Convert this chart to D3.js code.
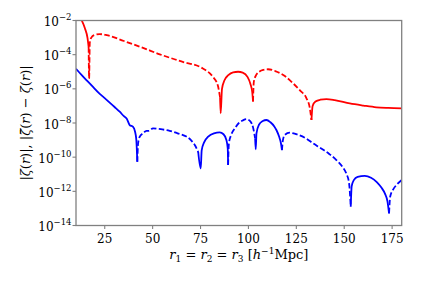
<!DOCTYPE html>
<html>
<head>
<meta charset="utf-8">
<script src="https://cdn.jsdelivr.net/npm/d3@7"></script>
<style>
body { margin: 0; background: #fff; }
svg text { font-family: "DejaVu Serif", serif; fill: #000; }
</style>
</head>
<body>
<div id="chart"></div>
<script>
"use strict"

// values: r in h^-1 Mpc, signed zeta (negative -> dashed)
const redR = [10, 12, 14.6, 16, 16.6, 16.85, 17.2, 18, 19.5, 22.4, 26, 35, 45, 53.7, 65, 76, 81.4, 84, 85.2,
	85.5, 86.2, 87.5, 89.5, 92, 94.6, 97, 99.5, 101, 102, 102.4,
	102.8, 104, 106, 108, 110.2, 114, 119, 123.3, 127, 130.3, 132, 132.9,
	133.5, 135, 137.5, 140.7, 145, 152.9, 160, 166.8, 173, 180];
const redZeta = [6.3e-2, 1.8e-2, 3.6e-3, 9.5e-4, 2.8e-4, -4.0e-6, -5.0e-4, -1.0e-3, -1.4e-3, -1.6e-3, -1.4e-3, -6.3e-4, -2.5e-4, -1.05e-4, -4.0e-5, -1.6e-5, -5.1e-6, -1.6e-6, -3.2e-7,
	3.7e-8, 1.0e-6, 3.2e-6, 6.3e-6, 9.3e-6, 1.0e-5, 8.9e-6, 5.0e-6, 2.0e-6, 6.3e-7, 1.8e-7,
	-2.5e-6, -6.3e-6, -1.07e-5, -1.3e-5, -1.4e-5, -1.1e-5, -5.6e-6, -2.1e-6, -7.9e-7, -2.8e-7, -7.9e-8, -1.5e-8,
	1.0e-7, 1.8e-7, 2.3e-7, 2.5e-7, 2.2e-7, 1.4e-7, 1.05e-7, 8.3e-8, 7.6e-8, 7.2e-8];

const blueR = [10, 13, 16, 19, 22, 24.1, 27, 30, 32.8, 35, 36.5, 38, 39.8, 40.8, 41.5, 42,
	42.4, 43.3, 45, 46.8, 48, 50.2, 53, 55, 58.9, 63, 67.6, 70, 72, 73.8,
	75.1, 75.6, 77, 79, 82, 85, 87, 88.5, 89.2, 89.4,
	89.8, 91, 93, 95, 97, 98.9, 101, 102.5, 103.5,
	103.8, 104.2, 105.5, 107.5, 109.4, 111.5, 113.5, 114.6, 116, 117, 117.5,
	118, 119, 121.5, 125, 130, 133.7, 138, 142, 145.9, 149, 151.1, 152.5, 153.4,
	153.9, 155, 157, 160.7, 164, 167, 169.5, 171.2, 172.6, 173.4,
	174, 175.5, 177.5, 180];
const blueZeta = [1.5e-5, 6.3e-6, 2.8e-6, 1.26e-6, 5.6e-7, 3.5e-7, 1.8e-7, 8.9e-8, 4.6e-8, 2.5e-8, 1.8e-8, 7.6e-9, 6.0e-9, 3.2e-9, 1.0e-9, 5.4e-11,
	-6.3e-10, -1.6e-9, -2.5e-9, -3.5e-9, -3.5e-9, -4.9e-9, -4.5e-9, -4.2e-9, -3.5e-9, -2.5e-9, -1.6e-9, -1.0e-9, -5.1e-10, -2.0e-10,
	2.2e-11, 2.5e-10, 7.9e-10, 1.6e-9, 2.5e-9, 2.8e-9, 2.2e-9, 1.0e-9, 3.2e-10, 3.5e-11,
	-6.3e-10, -2.0e-9, -5.0e-9, -1.0e-8, -1.4e-8, -1.7e-8, -1.26e-8, -5.0e-9, -1.26e-9,
	2.9e-10, 2.5e-9, 7.9e-9, 1.3e-8, 1.5e-8, 1.1e-8, 6.3e-9, 3.9e-9, 1.6e-9, 6.3e-10, 2.6e-10,
	-1.0e-9, -2.0e-9, -2.7e-9, -2.2e-9, -1.26e-9, -6.5e-10, -3.2e-10, -1.6e-10, -6.8e-11, -2.8e-11, -1.1e-11, -3.2e-12, -1.26e-13,
	2.0e-12, 4.5e-12, 7.1e-12, 8.1e-12, 6.3e-12, 3.5e-12, 1.6e-12, 7.6e-13, 2.5e-13, 5.1e-14,
	-5.0e-13, -1.26e-12, -2.5e-12, -4.6e-12];

const xTicks = [25, 50, 75, 100, 125, 150, 175];
const yTickExp = [-2, -4, -6, -8, -10, -12, -14];

const WIDTH = 421;
const HEIGHT = 281;
const LEFT = 76, RIGHT = 401.7, TOP = 20.5, BOTTOM = 225.5;
const SPINE = "#808080";

var svg = d3.select("#chart").append("svg")
	.attr("width", WIDTH)
	.attr("height", HEIGHT);

var x = d3.scaleLinear().domain([10, 180]).range([LEFT, RIGHT]);
var y = d3.scaleLog().domain([1e-14, 1e-2]).range([BOTTOM, TOP]);

svg.append("clipPath").attr("id", "plotClip")
	.append("rect")
	.attr("x", LEFT).attr("y", TOP)
	.attr("width", RIGHT - LEFT).attr("height", BOTTOM - TOP);

// split a signed series into runs of equal sign; each run starts at the previous run's last point
function signRuns(rs, zs)
{
	var out = [], cur = null;
	rs.forEach(function(r, i) {
		var p = { r: r, z: zs[i] };
		var pos = p.z >= 0;
		if (!cur || cur.pos !== pos) {
			var n = { pos: pos, pts: cur ? [cur.pts[cur.pts.length - 1]] : [] };
			out.push(n);
			cur = n;
		}
		cur.pts.push(p);
	});
	return out;
}

var line = d3.line()
	.x(function(d) { return x(d.r); })
	.y(function(d) { return y(Math.abs(d.z)); })
	.curve(d3.curveMonotoneX);

var plot = svg.append("g").attr("clip-path", "url(#plotClip)");

function drawSeries(rs, zs, color)
{
	plot.selectAll(null)
		.data(signRuns(rs, zs))
		.enter()
		.append("path")
		.attr("d", function(d) { return line(d.pts); })
		.attr("fill", "none")
		.attr("stroke", color)
		.attr("stroke-width", 1.8)
		.attr("stroke-dasharray", function(d) { return d.pos ? null : "5.5,2.4"; });
}

drawSeries(redR, redZeta, "#ff0000");
drawSeries(blueR, blueZeta, "#0000ff");

// frame
svg.append("rect")
	.attr("x", LEFT).attr("y", TOP)
	.attr("width", RIGHT - LEFT).attr("height", BOTTOM - TOP)
	.attr("fill", "none")
	.attr("stroke", SPINE)
	.attr("stroke-width", 1.3);

// x ticks
var xt = svg.selectAll(".xtick")
	.data(xTicks)
	.enter()
	.append("g")
	.attr("class", "xtick")
	.attr("transform", function(d) { return "translate(" + x(d) + ",0)"; });

xt.append("line")
	.attr("y1", BOTTOM).attr("y2", BOTTOM + 3.5)
	.attr("stroke", SPINE).attr("stroke-width", 1.1);

xt.append("text")
	.attr("y", BOTTOM + 17.5)
	.attr("text-anchor", "middle")
	.style("font-size", "12px")
	.text(function(d) { return d; });

// y ticks
var yt = svg.selectAll(".ytick")
	.data(yTickExp)
	.enter()
	.append("g")
	.attr("class", "ytick")
	.attr("transform", function(d) { return "translate(0," + y(Math.pow(10, d)) + ")"; });

yt.append("line")
	.attr("x1", LEFT - 3.5).attr("x2", LEFT)
	.attr("stroke", SPINE).attr("stroke-width", 1.1);

var ylab = yt.append("text")
	.attr("x", LEFT - 4.5)
	.attr("y", 5.5)
	.attr("text-anchor", "end")
	.style("font-size", "12px");
ylab.append("tspan").text("10");
ylab.append("tspan")
	.attr("dy", -6)
	.style("font-size", "8.5px")
	.text(function(d) { return "\u2212" + Math.abs(d); });

// axis labels
function mathText(sel, parts)
{
	parts.forEach(function(p) {
		var t = sel.append("tspan").text(p[0]);
		if (p[1] === "i") t.style("font-style", "italic");
		if (p[2]) t.attr("dy", p[2]);
		if (p[3]) t.style("font-size", p[3]);
	});
}

var xl = svg.append("text")
	.attr("x", (LEFT + RIGHT) / 2)
	.attr("y", 259)
	.attr("text-anchor", "middle")
	.style("font-size", "13px");
mathText(xl, [
	["r", "i"], ["1", "n", 3, "9px"], [" = ", "n", -3], ["r", "i"], ["2", "n", 3, "9px"],
	[" = ", "n", -3], ["r", "i"], ["3", "n", 3, "9px"], [" [", "n", -3], ["h", "i"],
	["\u22121", "n", -5.5, "9px"], ["Mpc]", "n", 5.5]
]);

var yl = svg.append("text")
	.attr("transform", "translate(30," + ((TOP + BOTTOM) / 2) + ") rotate(-90)")
	.attr("text-anchor", "middle")
	.style("font-size", "13px");
mathText(yl, [
	["|", "n"], ["\u03b6", "i"], ["(", "n"], ["r", "i"], [")|, |", "n"], ["\u03b6\u0304", "i"],
	["(", "n"], ["r", "i"], [") \u2212 ", "n"], ["\u03b6", "i"], ["(", "n"], ["r", "i"], [")|", "n"]
]);
</script>
</body>
</html>
